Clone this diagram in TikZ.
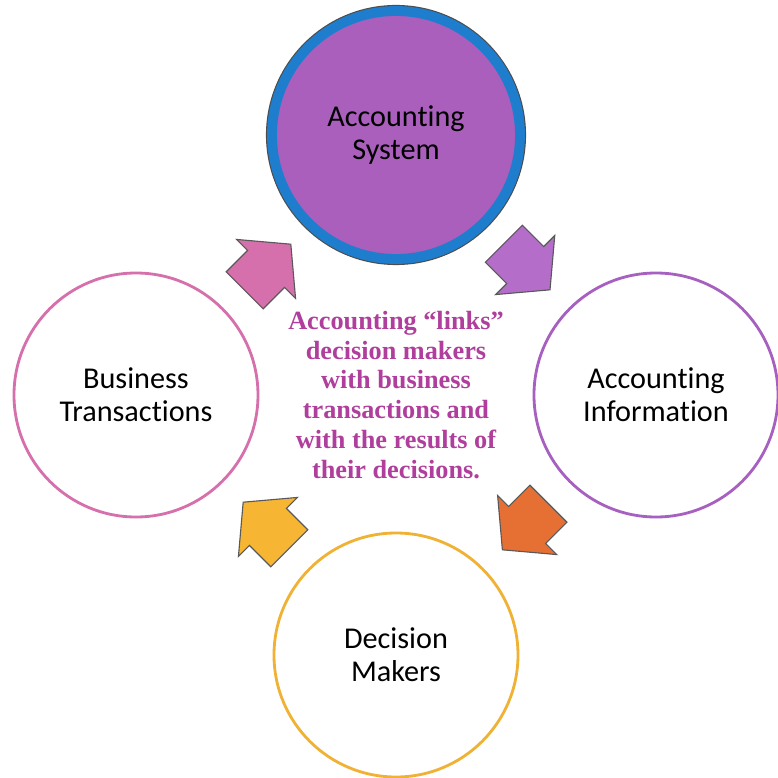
\documentclass[tikz,border=0pt]{standalone}
\usepackage{fontspec}
\setmainfont{Carlito}[Ligatures=NoCommon]
\newfontfamily\notefont{Liberation Serif}
\usetikzlibrary{positioning,shapes.arrows}

\definecolor{sysfill}{RGB}{169,95,187}
\definecolor{sysring}{RGB}{30,125,205}
\definecolor{bizline}{RGB}{214,112,172}
\definecolor{infoline}{RGB}{168,96,192}
\definecolor{declines}{RGB}{240,178,52}
\definecolor{notecol}{RGB}{176,62,156}
\definecolor{arrpink}{RGB}{214,112,172}
\definecolor{arrpurple}{RGB}{180,110,202}
\definecolor{arrorange}{RGB}{230,112,52}
\definecolor{arryellow}{RGB}{246,182,52}

\begin{document}
\begin{tikzpicture}[node distance=6.5cm,on grid,
  stage/.style={circle,draw,fill=white,line width=2pt,minimum size=6.1cm,
    align=center,font=\fontsize{21.5}{23.5}\selectfont},
  flow/.style={single arrow,draw=black!65,line width=0.8pt,
    inner xsep=0pt,inner ysep=0.64cm,minimum height=1.63cm,
    single arrow head extend=0.39cm,single arrow tip angle=100}]
  \useasboundingbox (-9.9,-9.575) rectangle (9.55,9.875);

  % the note in the middle
  \node (links) [align=center,text=notecol,
    font=\notefont\bfseries\fontsize{18.7}{21.3}\selectfont]
    {Accounting “links”\\decision makers\\with business\\transactions and\\with the results of\\their decisions.};

  % the four stages
  \node[stage,minimum size=6.2cm,fill=sysfill,draw=sysring,line width=7pt,
    preaction={draw=black!70,line width=8.6pt}]
                      (sys)  [above=of links] {Accounting\\System};
  \node[stage,draw=infoline] (info) [right=of links] {Accounting\\Information};
  \node[stage,draw=declines] (dec)  [below=of links] {Decision\\Makers};
  \node[stage,draw=bizline]  (biz)  [left=of links]  {Business\\Transactions};

  % arrows going round
  \node[flow,fill=arrpurple,rotate=-45] (a1) [above right=3.4cm and 3.08cm of links] {};
  \node[flow,fill=arrorange,rotate=-135] (a2) [below right=3.1cm and 3.43cm of links] {};
  \node[flow,fill=arryellow,rotate=135] (a3) [below left=3.45cm and 3.05cm of links] {};
  \node[flow,fill=arrpink,rotate=45] (a4) [above left=3.0cm and 3.4cm of links] {};
\end{tikzpicture}
\end{document}
